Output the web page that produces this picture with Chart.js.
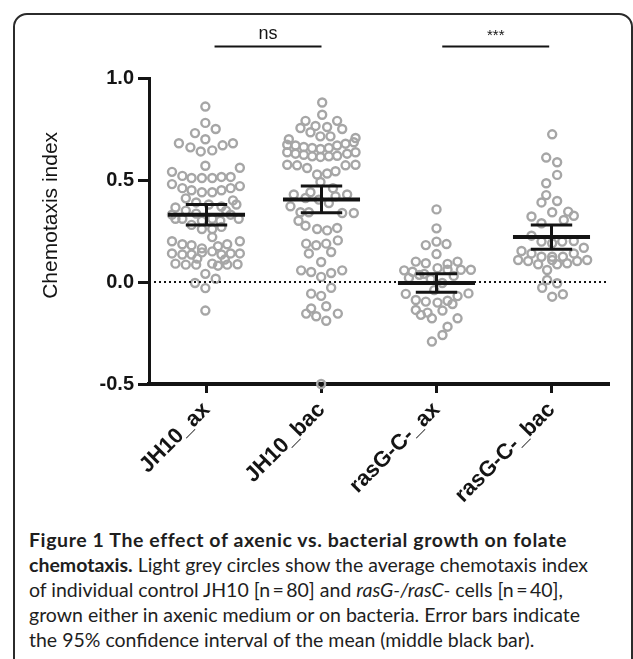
<!DOCTYPE html>
<html>
<head>
<meta charset="utf-8">
<script src="https://cdn.jsdelivr.net/npm/chart.js@4.4.1/dist/chart.umd.min.js"></script>
<style>
  html, body { margin: 0; padding: 0; background: #fff; }
  body { width: 633px; height: 659px; position: relative; overflow: hidden; }
  #frame { position: absolute; left: 13px; top: 13px; width: 620px; height: 720px; border: 2px solid #2b2b2b; border-radius: 14px; box-sizing: border-box; }
  #wrap { position: absolute; left: 0; top: 0; width: 633px; height: 525px; }
  #caption { position: absolute; left: 29px; top: 527px; font-family: Lato, sans-serif; font-size: 19.5px; line-height: 25px; color: #1e1e1e; white-space: nowrap; }
  #caption b { font-weight: 700; }
  #caption .wide { letter-spacing: 0.6px; }
</style>
</head>
<body>
<div id="frame"></div>
<div id="wrap"><canvas id="chart" width="633" height="525"></canvas></div>
<div id="caption">
  <b><span class="wide">Figure 1 The effect of axenic vs. bacterial growth on folate</span><br>chemotaxis.</b> Light grey circles show the average chemotaxis index<br>of individual control JH10 [n&#8201;=&#8201;80] and <i>rasG-/rasC-</i> cells [n&#8201;=&#8201;40],<br>grown either in axenic medium or on bacteria. Error bars indicate<br>the 95% confidence interval of the mean (middle black bar).
</div>
<script>
  const groups = ["JH10_ax", "JH10_bac", "rasG-C-_ax", "rasG-C-_bac"];
  const yTicks = [-0.5, 0.0, 0.5, 1.0];

  // chemotaxis index per cell, with horizontal scatter offset (category units)
  const jh10AxValues = [0.86, 0.78, 0.75, 0.73, 0.70, 0.68, 0.66, 0.64, 0.645, 0.67, 0.68, 0.57, 0.54, 0.56,
    0.52, 0.51, 0.51, 0.51, 0.515, 0.515, 0.48, 0.47, 0.46, 0.45, 0.44, 0.44, 0.45, 0.46, 0.41, 0.40,
    0.39, 0.37, 0.365, 0.38, 0.31, 0.35, 0.335, 0.31, 0.35, 0.31, 0.31, 0.30, 0.30, 0.33, 0.33, 0.28,
    0.26, 0.26, 0.27, 0.22, 0.20, 0.185, 0.18, 0.165, 0.175, 0.185, 0.20, 0.14, 0.135, 0.135, 0.145,
    0.15, 0.135, 0.14, 0.14, 0.09, 0.085, 0.085, 0.09, 0.08, 0.085, 0.087, 0.04, 0.016, -0.005, -0.03,
    0.115, 0.11, 0.38, -0.14];
  const jh10AxJitter = [-0.01, -0.01, 0.08, -0.10, -0.01, -0.24, -0.14, -0.05, 0.05, 0.14, 0.23, -0.01, -0.30, 0.29,
    -0.21, -0.13, -0.04, 0.05, 0.13, 0.21, -0.30, 0.29, -0.21, -0.13, -0.04, 0.05, 0.13, 0.21, -0.18, 0.23,
    -0.09, 0.13, -0.27, 0.02, -0.27, -0.18, -0.09, 0.05, 0.17, 0.28, -0.21, -0.04, 0.12, 0.21, -0.30, -0.13,
    -0.04, 0.05, 0.13, 0.05, -0.30, -0.21, -0.13, -0.04, 0.10, 0.18, 0.29, -0.30, -0.21, -0.13, -0.04,
    0.05, 0.13, 0.21, 0.29, -0.27, -0.18, -0.09, 0.05, 0.10, 0.18, 0.27, -0.01, 0.08, -0.10, -0.01,
    -0.08, 0.16, 0.26, -0.01];

  const jh10BacValues = [0.88, 0.82, 0.79, 0.79, 0.755, 0.765, 0.76, 0.75, 0.734, 0.714, 0.714, 0.70, 0.706,
    0.673, 0.669, 0.662, 0.657, 0.652, 0.657, 0.669, 0.678, 0.685, 0.636, 0.629, 0.624, 0.616, 0.613,
    0.616, 0.619, 0.629, 0.636, 0.575, 0.572, 0.559, 0.572, 0.575, 0.527, 0.532, 0.543, 0.49, 0.429,
    0.44, 0.42, 0.429, 0.371, 0.412, 0.404, 0.387, 0.342, 0.342, 0.338, 0.338, 0.276, 0.26, 0.253, 0.265,
    0.188, 0.18, 0.188, 0.204, 0.14, 0.147, 0.098, 0.057, 0.049, 0.025, 0.044, 0.057, -0.028, -0.057,
    -0.068, -0.119, -0.13, -0.155, -0.168, -0.155, -0.19, -0.50, 0.46, 0.30];
  const jh10BacJitter = [0.006, 0.006, -0.139, 0.136, -0.183, -0.052, 0.049, 0.18, -0.096, -0.01, 0.078, -0.284, 0.296,
    -0.298, -0.226, -0.154, -0.081, -0.009, 0.064, 0.136, 0.209, 0.281, -0.298, -0.226, -0.154, -0.081, -0.009,
    0.064, 0.136, 0.223, 0.296, -0.298, -0.212, -0.125, 0.209, 0.296, -0.038, 0.049, 0.122, -0.009, -0.241,
    -0.096, 0.122, 0.223, -0.27, -0.139, -0.023, 0.064, -0.183, -0.11, 0.18, 0.281, -0.139, -0.038, 0.049, 0.136,
    -0.133, -0.046, 0.041, 0.142, -0.11, 0.084, -0.003, -0.177, -0.09, -0.003, 0.084, 0.18, 0.084, -0.09,
    -0.003, 0.041, -0.09, -0.133, -0.046, 0.142, 0.041, -0.003, 0.10, -0.20];

  const rasAxValues = [0.356, 0.263, 0.181, 0.198, 0.186, 0.137, 0.10, 0.092, 0.089, 0.10, 0.057, 0.05, 0.04,
    0.068, 0.06, 0.06, 0.06, 0.035, 0.015, -0.005, 0.03, 0.02, -0.058, -0.088, -0.096, -0.101, -0.092,
    -0.069, -0.056, -0.137, -0.161, -0.15, -0.178, -0.14, -0.108, -0.178, -0.219, -0.26, -0.292, -0.04];
  const rasAxJitter = [0.0, 0.0, -0.093, 0.0, 0.087, 0.0, -0.18, -0.093, 0.096, 0.183, -0.281, -0.209, -0.107,
    0.009, 0.096, 0.212, 0.299, -0.15, -0.05, 0.05, 0.15, -0.24, -0.267, -0.18, -0.093, 0.009, 0.096,
    0.183, 0.278, -0.18, -0.136, -0.078, -0.04, 0.052, 0.139, 0.183, 0.096, 0.052, -0.04, -0.02];

  const rasBacValues = [0.724, 0.61, 0.587, 0.525, 0.484, 0.426, 0.39, 0.397, 0.342, 0.321, 0.345, 0.325, 0.288,
    0.304, 0.227, 0.198, 0.19, 0.198, 0.201, 0.152, 0.14, 0.124, 0.124, 0.124, 0.14, 0.168, 0.108, 0.103,
    0.087, 0.108, 0.087, 0.092, 0.103, 0.108, 0.059, 0.01, -0.006, -0.028, -0.072, -0.06];
  const rasBacJitter = [0.006, -0.046, 0.049, 0.049, -0.046, -0.046, -0.087, 0.049, 0.006, -0.174, 0.145, 0.194, -0.087,
    0.107, -0.174, -0.087, 0.006, 0.093, 0.194, -0.261, -0.174, -0.087, 0.006, 0.099, 0.194, 0.281, -0.29, -0.203,
    -0.116, 0.006, 0.049, 0.136, 0.223, 0.31, -0.038, -0.038, 0.049, -0.081, 0.006, 0.099];

  const groupValues = [jh10AxValues, jh10BacValues, rasAxValues, rasBacValues];
  const groupJitter = [jh10AxJitter, jh10BacJitter, rasAxJitter, rasBacJitter];

  // mean and 95% CI of the mean
  const means = [0.33, 0.405, -0.005, 0.22];
  const ciLow = [0.28, 0.34, -0.05, 0.16];
  const ciHigh = [0.38, 0.47, 0.04, 0.28];

  // significance brackets
  const sigLabels = ["ns", "***"];
  const sigFrom = [0.07, 2.05];
  const sigTo = [1.0, 2.98];
  const sigLevel = 1.155;

  const axisFont = "'Liberation Sans', Arial, sans-serif";
  const ink = "#141414";

  const scatterSets = groupValues.map((vals, i) => ({
    type: "scatter",
    data: vals.map((v, j) => ({ x: i + groupJitter[i][j], y: v })),
    pointRadius: 4,
    pointBorderWidth: 2.4,
    pointBorderColor: "#a6a6a6",
    pointBackgroundColor: "rgba(255,255,255,0)",
    clip: false,
    order: 3
  }));

  const zeroLine = {
    type: "line",
    data: [{ x: -0.5, y: 0 }, { x: 3.5, y: 0 }],
    borderColor: ink,
    borderWidth: 2,
    borderDash: [2, 3],
    pointRadius: 0,
    order: 1
  };

  const bracketSets = sigLabels.map((s, i) => ({
    type: "line",
    data: [{ x: sigFrom[i], y: sigLevel }, { x: sigTo[i], y: sigLevel }],
    borderColor: ink,
    borderWidth: 2,
    pointRadius: 0,
    clip: false,
    order: 1
  }));

  const errorBars = {
    id: "errorBars",
    afterDatasetsDraw(chart) {
      const { ctx, scales: { x, y } } = chart;
      ctx.save();
      ctx.strokeStyle = ink;
      groups.forEach((g, i) => {
        const cx = x.getPixelForValue(i);
        const half = x.getPixelForValue(i + 0.335) - cx;
        const cap = x.getPixelForValue(i + 0.18) - cx;
        const ym = y.getPixelForValue(means[i]);
        const yl = y.getPixelForValue(ciLow[i]);
        const yh = y.getPixelForValue(ciHigh[i]);
        ctx.lineWidth = 4;
        ctx.beginPath();
        ctx.moveTo(cx - half, ym); ctx.lineTo(cx + half, ym);
        ctx.stroke();
        ctx.lineWidth = 3;
        ctx.beginPath();
        ctx.moveTo(cx - cap, yl); ctx.lineTo(cx + cap, yl);
        ctx.moveTo(cx - cap, yh); ctx.lineTo(cx + cap, yh);
        ctx.moveTo(cx, yl); ctx.lineTo(cx, yh);
        ctx.stroke();
      });

      // significance labels
      ctx.fillStyle = ink;
      ctx.textAlign = "center";
      ctx.textBaseline = "bottom";
      sigLabels.forEach((s, i) => {
        const mx = (x.getPixelForValue(sigFrom[i]) + x.getPixelForValue(sigTo[i])) / 2;
        const ly = y.getPixelForValue(sigLevel);
        ctx.font = (s === "ns" ? "18px " : "15px ") + axisFont;
        ctx.fillText(s, mx, ly - 3);
      });

      // y axis title
      ctx.font = "21px " + axisFont;
      ctx.textBaseline = "middle";
      ctx.translate(51, (y.getPixelForValue(0.83) + y.getPixelForValue(0.0)) / 2 + 18);
      ctx.rotate(-Math.PI / 2);
      ctx.fillText("Chemotaxis index", 0, 0);
      ctx.restore();
    }
  };

  new Chart(document.getElementById("chart"), {
    type: "scatter",
    data: { datasets: [zeroLine, ...bracketSets, ...scatterSets] },
    options: {
      responsive: false,
      animation: false,
      layout: { padding: { left: 0, top: 78, right: 24, bottom: 0 } },
      plugins: { legend: { display: false }, tooltip: { enabled: false } },
      scales: {
        x: {
          type: "linear",
          min: -0.5,
          max: 3.5,
          afterBuildTicks: s => { s.ticks = groups.map((g, i) => ({ value: i })); },
          afterFit: s => { s.height = 141; },
          ticks: {
            callback: v => groups[v],
            minRotation: 45,
            maxRotation: 45,
            autoSkip: false,
            padding: 4,
            color: ink,
            font: { family: axisFont, size: 22, weight: "bold" }
          },
          grid: { drawOnChartArea: false, drawTicks: true, tickLength: 9, tickWidth: 3, color: ink },
          border: { display: true, width: 4, color: ink }
        },
        y: {
          min: -0.5,
          max: 1.0,
          afterBuildTicks: s => { s.ticks = yTicks.map(v => ({ value: v })); },
          afterFit: s => { s.width = 149; },
          ticks: {
            callback: v => v.toFixed(1),
            padding: 4,
            color: ink,
            font: { family: axisFont, size: 20, weight: "bold" }
          },
          grid: { drawOnChartArea: false, drawTicks: true, tickLength: 11, tickWidth: 3, color: ink },
          border: { display: true, width: 3, color: ink }
        }
      }
    },
    plugins: [errorBars]
  });
</script>
</body>
</html>
